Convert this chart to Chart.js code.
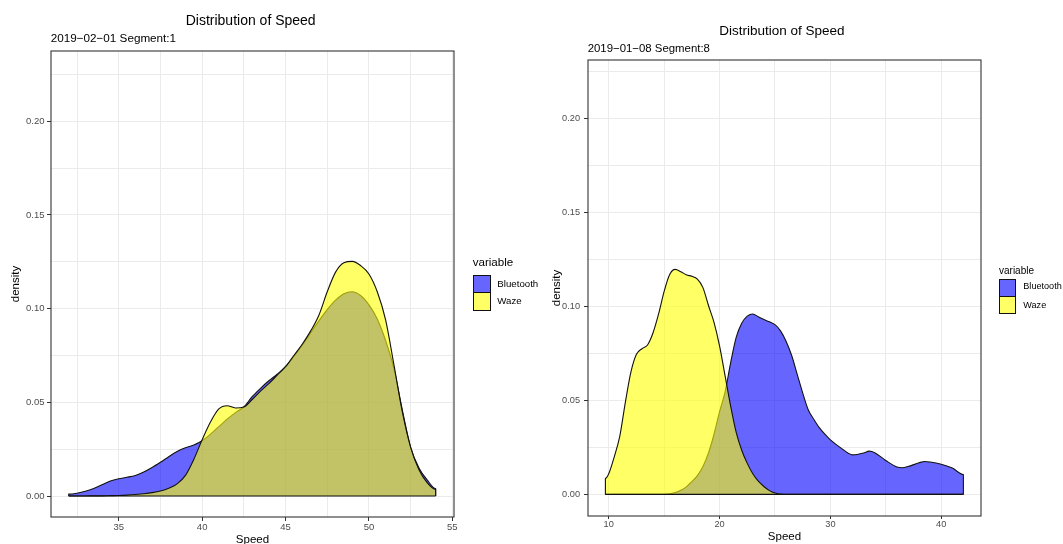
<!DOCTYPE html>
<html><head><meta charset="utf-8">
<script src="https://cdn.jsdelivr.net/npm/chart.js@4.4.0/dist/chart.umd.min.js"></script>
<style>
html,body{margin:0;padding:0;background:#fff;overflow:hidden;width:1063px;height:544px;}
body{position:relative;font-family:'Liberation Sans',Arial,sans-serif;color:#000;}
canvas{position:absolute;top:0;}
.t{position:absolute;white-space:nowrap;line-height:1;}
.key{position:absolute;box-sizing:border-box;border:1.2px solid #111;}
</style></head><body>
<canvas id="c1" width="540" height="552" style="left:0px"></canvas>
<canvas id="c2" width="523" height="552" style="left:540px"></canvas>

<div class="t" style="left:185.7px;top:13.2px;font-size:14px">Distribution of Speed</div>
<div class="t" style="left:50.7px;top:32.4px;font-size:11.7px">2019−02−01 Segment:1</div>
<div class="t" style="left:719.3px;top:24.4px;font-size:13.5px">Distribution of Speed</div>
<div class="t" style="left:587.7px;top:43px;font-size:11.4px">2019−01−08 Segment:8</div>

<div class="t" style="left:472.7px;top:256.2px;font-size:11.6px">variable</div>
<div class="key" style="left:473px;top:274.5px;width:18px;height:18.6px;background:rgba(0,0,255,0.6)"></div>
<div class="key" style="left:473px;top:292.4px;width:18px;height:18.4px;background:rgba(255,255,0,0.6)"></div>
<div class="t" style="left:497.3px;top:278.6px;font-size:9.7px">Bluetooth</div>
<div class="t" style="left:497.3px;top:296.3px;font-size:9.7px">Waze</div>

<div class="t" style="left:999px;top:265.8px;font-size:10px">variable</div>
<div class="key" style="left:999px;top:279px;width:17px;height:18.2px;background:rgba(0,0,255,0.6)"></div>
<div class="key" style="left:999px;top:296.4px;width:17px;height:18px;background:rgba(255,255,0,0.6)"></div>
<div class="t" style="left:1023.3px;top:282.3px;font-size:9.1px">Bluetooth</div>
<div class="t" style="left:1023.3px;top:300.6px;font-size:9.1px">Waze</div>

<script>
// ---------- data: panel 1 (2019-02-01 Segment:1) ----------
const speed1 = [32,32.5,33,33.5,34,34.5,35,35.5,36,36.5,37,37.5,38,38.5,39,39.5,40,40.5,41,41.5,42,42.5,43,43.5,44,44.5,45,45.5,46,46.5,47,47.5,48,48.5,49,49.5,50,50.5,51,51.5,52,52.5,53,53.5,54];
const bluetooth1 = [0.0010,0.0015,0.0025,0.0040,0.0060,0.0080,0.0092,0.0100,0.0110,0.0128,0.0152,0.0180,0.0210,0.0238,0.0258,0.0272,0.0295,0.0330,0.0370,0.0410,0.0445,0.0475,0.0530,0.0575,0.0615,0.0650,0.0690,0.0745,0.0805,0.0870,0.0935,0.0995,0.1045,0.1080,0.1090,0.1070,0.1020,0.0945,0.0830,0.0680,0.0460,0.0260,0.0150,0.0085,0.0040];
const waze1 = [0,0,0,0.0001,0.0001,0.0002,0.0003,0.0005,0.0008,0.0012,0.0018,0.0027,0.0042,0.0065,0.0110,0.0195,0.0300,0.0395,0.0465,0.0482,0.0470,0.0475,0.0515,0.0560,0.0600,0.0645,0.0690,0.0750,0.0810,0.0880,0.0965,0.1090,0.1195,0.1245,0.1252,0.1230,0.1185,0.1090,0.0940,0.0700,0.0450,0.0260,0.0140,0.0070,0.0035];

// ---------- data: panel 2 (2019-01-08 Segment:8) ----------
const speed2 = [9.7,10,10.5,11,11.5,12,12.5,13,13.5,14,14.5,15,15.5,16,16.5,17,17.5,18,18.5,19,19.5,20,20.5,21,21.5,22,22.5,23,23.5,24,24.5,25,25.5,26,26.5,27,27.5,28,28.5,29,29.5,30,31,32,33,33.5,34,35,36,36.5,37,38,38.5,39,40,41,42];
const bluetooth2 = [0,0,0,0,0,0,0,0,0,0,0,0.0001,0.0003,0.0010,0.0022,0.0040,0.0068,0.0100,0.0148,0.0220,0.0320,0.0440,0.0545,0.0700,0.0835,0.0910,0.0948,0.0960,0.0945,0.0930,0.0918,0.0903,0.0870,0.0815,0.0740,0.0640,0.0540,0.0450,0.0400,0.0355,0.0320,0.0290,0.0245,0.0210,0.0220,0.0230,0.0222,0.0180,0.0146,0.0142,0.0148,0.0168,0.0175,0.0172,0.0160,0.0140,0.0106];
const waze2 = [0.0085,0.0110,0.0200,0.0310,0.0490,0.0650,0.0745,0.0775,0.0795,0.0860,0.0960,0.1080,0.1170,0.1197,0.1185,0.1168,0.1160,0.1145,0.1100,0.1005,0.0915,0.0790,0.0630,0.0470,0.0330,0.0235,0.0165,0.0110,0.0070,0.0042,0.0020,0.0007,0.0002,0,0,0,0,0,0,0,0,0,0,0,0,0,0,0,0,0,0,0,0,0,0,0,0];

// ---------- tick labels ----------
const yLabelTicks = [0, 0.05, 0.10, 0.15, 0.20];
const xLabelTicks1 = [35, 40, 45, 50, 55];
const xLabelTicks2 = [10, 20, 30, 40];

const FONT = "'Liberation Sans', Arial, sans-serif";

function area(xs, ys) {
  const pts = xs.map((x, i) => ({x: x, y: ys[i]}));
  pts.unshift({x: xs[0], y: 0});
  pts.push({x: xs[xs.length - 1], y: 0});
  return pts;
}
function isIn(list, v) { return list.some(t => Math.abs(t - v) < 1e-6); }

const frame = {
  id: 'frame',
  afterDraw(chart) {
    const {ctx, chartArea: a} = chart;
    ctx.save();
    ctx.strokeStyle = '#333333';
    ctx.lineWidth = 1.1;
    ctx.strokeRect(a.left, a.top, a.right - a.left, a.bottom - a.top);
    ctx.restore();
  }
};

function makeChart(id, speed, bt, wz, xLabels, L) {
  const common = {pointRadius: 0, borderColor: '#111', borderWidth: 1.1, cubicInterpolationMode: 'monotone', borderJoinStyle: 'round'};
  return new Chart(document.getElementById(id), {
    type: 'line',
    data: {
      datasets: [
        Object.assign({label: 'Bluetooth', data: area(speed, bt), backgroundColor: 'rgba(0,0,255,0.6)', fill: 'origin', order: 2}, common),
        Object.assign({label: 'Waze', data: area(speed, wz), backgroundColor: 'rgba(255,255,0,0.6)', fill: 'origin', order: 1}, common),
        Object.assign({label: 'baseline', data: [{x: speed[0], y: 0}, {x: speed[speed.length - 1], y: 0}], fill: false, order: 0}, common)
      ]
    },
    options: {
      responsive: false,
      animation: false,
      devicePixelRatio: 1,
      events: [],
      layout: {padding: {left: 0, top: L.top, right: L.right, bottom: 0}},
      plugins: {legend: {display: false}, tooltip: {enabled: false}},
      scales: {
        x: {
          type: 'linear', min: L.xmin, max: L.xmax,
          afterFit: s => { s.height = L.xh; },
          border: {display: false},
          grid: {color: '#EBEBEB', lineWidth: 1, tickLength: L.tl, tickWidth: 1,
                 tickColor: c => isIn(xLabels, c.tick.value) ? '#333333' : 'rgba(0,0,0,0)'},
          ticks: {stepSize: L.xstep, autoSkip: false, includeBounds: false, maxRotation: 0, minRotation: 0,
                  padding: L.xpad, color: '#4D4D4D', font: {family: FONT, size: L.tick},
                  callback: v => isIn(xLabels, v) ? String(v) : ''},
          title: {display: true, text: 'Speed', color: '#000', font: {family: FONT, size: 11.5}, padding: {top: 0, bottom: L.xtp}}
        },
        y: {
          type: 'linear', min: L.ymin, max: L.ymax,
          afterFit: s => { s.width = L.yw; },
          border: {display: false},
          grid: {color: '#EBEBEB', lineWidth: 1, tickLength: 4, tickWidth: 1,
                 tickColor: c => isIn(yLabelTicks, c.tick.value) ? '#333333' : 'rgba(0,0,0,0)'},
          ticks: {stepSize: 0.025, autoSkip: false, includeBounds: false,
                  padding: L.ypad, color: '#4D4D4D', font: {family: FONT, size: L.tick},
                  callback: v => isIn(yLabelTicks, v) ? v.toFixed(2) : ''},
          title: {display: true, text: 'density', color: '#000', font: {family: FONT, size: 11.5}, padding: {top: L.ytp, bottom: 0}}
        }
      }
    },
    plugins: [frame]
  });
}

makeChart('c1', speed1, bluetooth1, waze1, xLabelTicks1,
  {top: 51, right: 86, xh: 35, yw: 51, xmin: 30.94, xmax: 55.10, ymin: -0.0112, ymax: 0.2375,
   xstep: 2.5, tick: 9.5, tl: 4, xpad: 1, ypad: 2.5, xtp: 5.1, ytp: 9.1});
makeChart('c2', speed2, bluetooth2, waze2, xLabelTicks2,
  {top: 60, right: 82, xh: 36, yw: 48, xmin: 8.13, xmax: 43.59, ymin: -0.0115, ymax: 0.2311,
   xstep: 5, tick: 9.2, tl: 3, xpad: 0, ypad: 4, xtp: 8.1, ytp: 10.1});
</script>
</body></html>
